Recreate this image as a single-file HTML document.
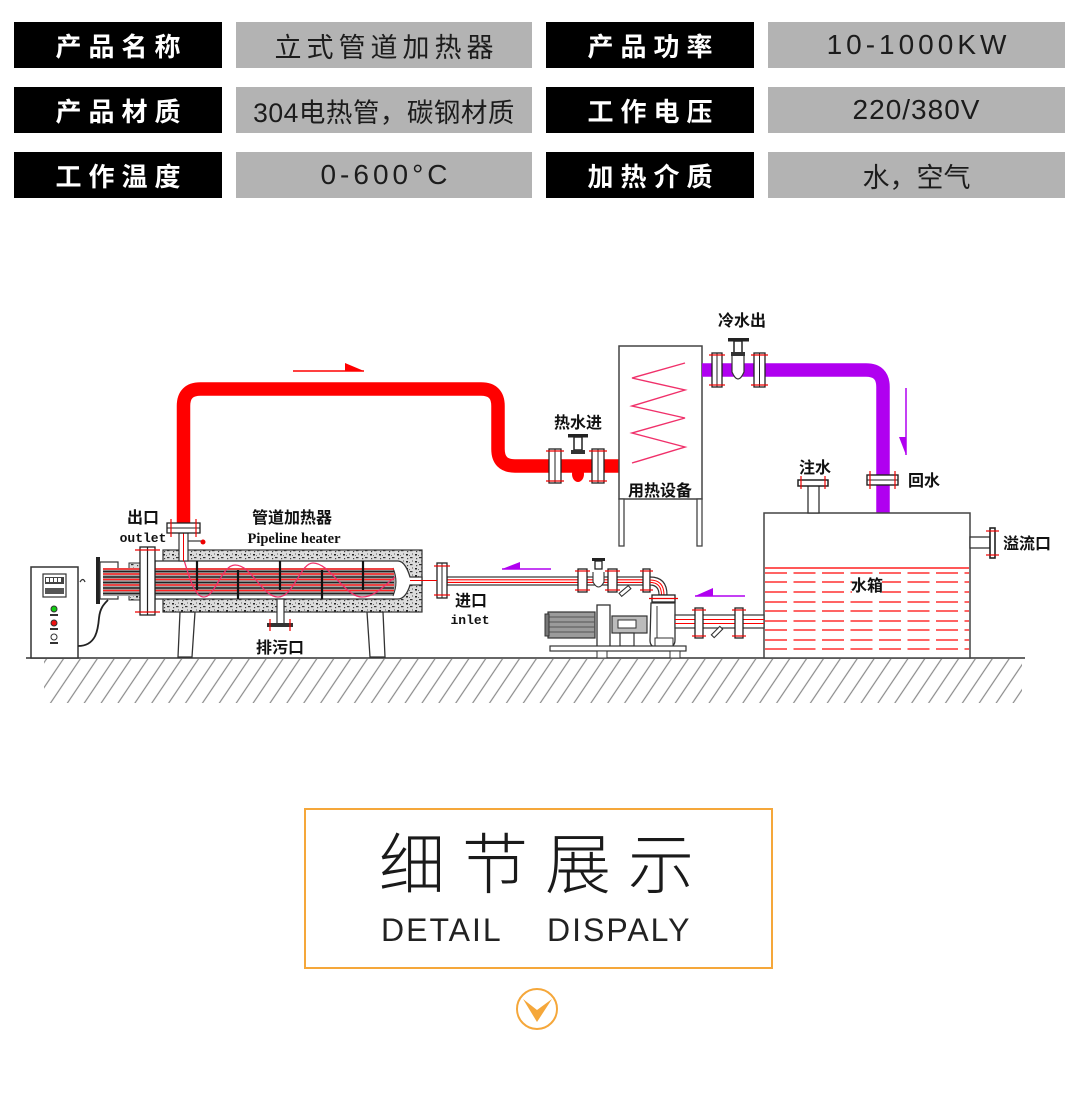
<!DOCTYPE html>
<html><head><meta charset="utf-8"><style>
html,body{margin:0;padding:0;background:#fff;}
body{width:1080px;height:1096px;position:relative;overflow:hidden;font-family:"Liberation Sans","Noto Sans CJK SC",sans-serif;}
.b{position:absolute;display:flex;align-items:center;justify-content:center;height:46px;white-space:nowrap;box-sizing:border-box;}
.k{background:#000;color:#fff;font-weight:bold;font-size:26px;letter-spacing:7px;padding-left:7px;}
.g{background:#b3b3b3;color:#1c1c1c;font-size:27px;}
svg{position:absolute;left:0;top:0;}
.t{font-family:"Liberation Sans","Noto Sans CJK SC",sans-serif;font-weight:bold;font-size:16px;fill:#111;}
</style></head><body>

<div class="b k" style="left:14px;top:22px;width:208px;">产品名称</div>
<div class="b g" style="left:236px;top:22px;width:296px;letter-spacing:5px;padding-left:5px;">立式管道加热器</div>
<div class="b k" style="left:546px;top:22px;width:208px;">产品功率</div>
<div class="b g" style="left:768px;top:22px;width:297px;font-size:28px;letter-spacing:4px;padding-left:4px;">10-1000KW</div>

<div class="b k" style="left:14px;top:87px;width:208px;">产品材质</div>
<div class="b g" style="left:236px;top:87px;width:296px;font-size:26.5px;letter-spacing:0.5px;">304电热管，碳钢材质</div>
<div class="b k" style="left:546px;top:87px;width:208px;">工作电压</div>
<div class="b g" style="left:768px;top:87px;width:297px;font-size:28px;letter-spacing:1px;">220/380V</div>

<div class="b k" style="left:14px;top:152px;width:208px;">工作温度</div>
<div class="b g" style="left:236px;top:152px;width:296px;font-size:28px;letter-spacing:4px;padding-left:4px;">0-600°C</div>
<div class="b k" style="left:546px;top:152px;width:208px;">加热介质</div>
<div class="b g" style="left:768px;top:152px;width:297px;">水，空气</div>

<svg width="1080" height="1096" viewBox="0 0 1080 1096">
<defs>
<pattern id="hatch" width="14" height="10" patternUnits="userSpaceOnUse" patternTransform="rotate(34)"><line x1="1" y1="-1" x2="1" y2="11" stroke="#8a8a8a" stroke-width="1.2"/></pattern>
<pattern id="speck" width="9" height="7" patternUnits="userSpaceOnUse"><rect width="9" height="7" fill="#dcdcdc"/><rect x="1" y="1" width="2" height="1.5" fill="#222"/><rect x="5" y="4" width="2.5" height="1.2" fill="#333"/><rect x="7" y="0.5" width="1" height="1" fill="#555"/><rect x="2" y="5" width="1.2" height="1.2" fill="#444"/><rect x="4" y="2" width="1" height="1" fill="#777"/></pattern>
</defs>

<!-- ground -->
<rect x="44" y="659" width="978" height="44" fill="url(#hatch)"/>
<line x1="26" y1="658" x2="1025" y2="658" stroke="#333" stroke-width="1.6"/>

<!-- control box -->
<rect x="31" y="567" width="47" height="91" fill="#fff" stroke="#333" stroke-width="1.5"/>
<rect x="43" y="574" width="23" height="23" fill="#fff" stroke="#333" stroke-width="1.2"/>
<rect x="45" y="577" width="19" height="7" fill="#444"/>
<rect x="46" y="578" width="3" height="4" fill="#fff"/><rect x="50" y="578" width="3" height="4" fill="#fff"/><rect x="54" y="578" width="3" height="4" fill="#fff"/><rect x="58" y="578" width="3" height="4" fill="#fff"/>
<rect x="45" y="588" width="19" height="6" fill="#555"/>
<circle cx="54" cy="609" r="3" fill="#1c1" stroke="#333"/><rect x="50" y="614" width="8" height="2" fill="#333"/>
<circle cx="54" cy="623" r="3" fill="#e11" stroke="#333"/><rect x="50" y="628" width="8" height="2" fill="#333"/>
<circle cx="54" cy="637" r="3" fill="#fff" stroke="#333"/><rect x="50" y="642" width="8" height="2" fill="#333"/>
<path d="M80,582 q3,-5 5,0" fill="none" stroke="#333" stroke-width="1.3"/>
<path d="M78,646 C96,646 98,630 99,618 C100,608 104,604 108,600" fill="none" stroke="#222" stroke-width="1.8"/>

<!-- heater legs -->
<path d="M180,612 L195,612 L192,657 L178,657 Z" fill="#fff" stroke="#333" stroke-width="1.3"/>
<path d="M367,612 L383,612 L385,657 L370,657 Z" fill="#fff" stroke="#333" stroke-width="1.3"/>

<!-- insulation shell -->
<rect x="163" y="550" width="259" height="62" fill="url(#speck)" stroke="#333" stroke-width="1.2"/>
<path d="M155,561 H398 C404,561 408,570 410,577 H422 V585 H410 C408,592 404,599 398,599 H155 Z" fill="#fff" stroke="#333" stroke-width="1.3"/>

<!-- heater head -->
<rect x="96" y="557" width="4" height="47" fill="#222"/>
<rect x="100" y="562" width="18" height="37" fill="#fff" stroke="#333" stroke-width="1.2"/>
<rect x="129" y="563" width="11" height="37" fill="url(#speck)" stroke="#333" stroke-width="1"/>

<!-- tube bundle -->
<rect x="103" y="568" width="290" height="28" fill="#a8a8a8"/>
<path d="M393,568 Q399,582 393,596" fill="#a8a8a8" stroke="#333" stroke-width="1"/>
<g stroke-width="1.4">
<line x1="103" y1="569" x2="394" y2="569" stroke="#f22"/>
<line x1="103" y1="571.5" x2="394" y2="571.5" stroke="#222"/>
<line x1="103" y1="574" x2="394" y2="574" stroke="#f22"/>
<line x1="103" y1="577" x2="394" y2="577" stroke="#222"/>
<line x1="103" y1="579.5" x2="394" y2="579.5" stroke="#f22"/>
<line x1="103" y1="582.5" x2="394" y2="582.5" stroke="#222"/>
<line x1="103" y1="585" x2="394" y2="585" stroke="#f22"/>
<line x1="103" y1="588" x2="394" y2="588" stroke="#222"/>
<line x1="103" y1="590.5" x2="394" y2="590.5" stroke="#f22"/>
<line x1="103" y1="593.5" x2="394" y2="593.5" stroke="#222"/>
</g>

<!-- baffles -->
<g stroke="#111" stroke-width="2.2">
<line x1="197" y1="561" x2="197" y2="590"/>
<line x1="238" y1="570" x2="238" y2="599"/>
<line x1="280" y1="561" x2="280" y2="590"/>
<line x1="322" y1="570" x2="322" y2="599"/>
<line x1="363" y1="561" x2="363" y2="590"/>
</g>
<!-- flow wave -->
<path d="M184,560 C190,580 195,597 204,597 C215,597 222,565 235,565 C252,565 262,597 278,597 C294,597 300,563 313,563 C330,563 345,597 362,597 C375,597 385,585 395,577" fill="none" stroke="#f0306a" stroke-width="1.3"/>

<!-- big flange -->
<rect x="140" y="547" width="15" height="68" fill="#fff" stroke="#222" stroke-width="1.3"/>
<line x1="147.5" y1="547" x2="147.5" y2="615" stroke="#222" stroke-width="1.2"/>
<line x1="135" y1="550" x2="160" y2="550" stroke="#e00" stroke-width="1.3"/>
<line x1="135" y1="612" x2="160" y2="612" stroke="#e00" stroke-width="1.3"/>

<!-- drain -->
<rect x="277" y="599" width="7" height="26" fill="#fff" stroke="#333" stroke-width="1.2"/>
<rect x="267" y="623" width="26" height="4" fill="#333"/>
<line x1="270" y1="619" x2="270" y2="631" stroke="#e00" stroke-width="1.2"/>
<line x1="290" y1="619" x2="290" y2="631" stroke="#e00" stroke-width="1.2"/>

<!-- outlet nozzle -->
<rect x="179" y="533" width="9" height="28" fill="#fff" stroke="#333" stroke-width="1.2"/>
<line x1="183.5" y1="533" x2="183.5" y2="561" stroke="#e00" stroke-width="1"/>
<line x1="188" y1="541" x2="201" y2="541" stroke="#333" stroke-width="1.2"/>
<circle cx="203" cy="542" r="2.5" fill="#e00"/>

<!-- red hot pipe -->
<path d="M183.5,523 V406 Q183.5,389 200.5,389 H481 Q498,389 498,406 V449 Q498,466 515,466 H619" fill="none" stroke="#ff0000" stroke-width="13.5"/>
<rect x="167" y="523" width="33" height="10" fill="#fff" stroke="#222" stroke-width="1.3"/>
<line x1="167" y1="528" x2="200" y2="528" stroke="#222" stroke-width="1"/>
<line x1="171" y1="519" x2="171" y2="537" stroke="#e00" stroke-width="1.2"/>
<line x1="196" y1="519" x2="196" y2="537" stroke="#e00" stroke-width="1.2"/>

<!-- red arrow -->
<line x1="293" y1="371" x2="364" y2="371" stroke="#ff0000" stroke-width="1.5"/>
<polygon points="345,363 364,371 345,371" fill="#ff0000"/>

<!-- hot water valve -->
<g>
<rect x="549" y="449" width="12" height="34" fill="#fff" stroke="#222" stroke-width="1.3"/>
<line x1="555" y1="449" x2="555" y2="483" stroke="#222"/>
<line x1="546" y1="451" x2="564" y2="451" stroke="#e00" stroke-width="1.2"/>
<line x1="546" y1="481" x2="564" y2="481" stroke="#e00" stroke-width="1.2"/>
<rect x="592" y="449" width="12" height="34" fill="#fff" stroke="#222" stroke-width="1.3"/>
<line x1="598" y1="449" x2="598" y2="483" stroke="#222"/>
<line x1="589" y1="451" x2="607" y2="451" stroke="#e00" stroke-width="1.2"/>
<line x1="589" y1="481" x2="607" y2="481" stroke="#e00" stroke-width="1.2"/>
<rect x="568" y="434" width="20" height="3.5" fill="#222"/>
<rect x="574" y="437" width="8" height="13" fill="#fff" stroke="#222" stroke-width="1.5"/>
<rect x="571" y="450" width="14" height="4" fill="#333"/>
<ellipse cx="578" cy="474" rx="6" ry="8" fill="#ff0000"/>
</g>

<!-- heat equipment -->
<rect x="619" y="346" width="83" height="153" fill="#fff" stroke="#444" stroke-width="1.5"/>
<rect x="619" y="499" width="5" height="47" fill="#fff" stroke="#444" stroke-width="1.3"/>
<rect x="697" y="499" width="5" height="47" fill="#fff" stroke="#444" stroke-width="1.3"/>
<polyline points="685,363 632,378 685,390 632,406 685,418 632,433 685,447 632,463" fill="none" stroke="#f0306a" stroke-width="1.4"/>

<!-- purple pipe -->
<path d="M702,370 H866 Q883,370 883,387 V513" fill="none" stroke="#b000f0" stroke-width="13.5"/>
<g>
<rect x="712" y="353" width="10" height="34" fill="#fff" stroke="#222" stroke-width="1.3"/>
<line x1="717" y1="353" x2="717" y2="387" stroke="#222"/>
<line x1="709" y1="355" x2="725" y2="355" stroke="#e00" stroke-width="1.2"/>
<line x1="709" y1="385" x2="725" y2="385" stroke="#e00" stroke-width="1.2"/>
<rect x="754" y="353" width="11" height="34" fill="#fff" stroke="#222" stroke-width="1.3"/>
<line x1="759.5" y1="353" x2="759.5" y2="387" stroke="#222"/>
<line x1="751" y1="355" x2="768" y2="355" stroke="#e00" stroke-width="1.2"/>
<line x1="751" y1="385" x2="768" y2="385" stroke="#e00" stroke-width="1.2"/>
<rect x="728" y="338" width="21" height="3.5" fill="#222"/>
<rect x="734" y="341" width="8" height="12" fill="#fff" stroke="#222" stroke-width="1.5"/>
<rect x="731" y="352" width="14" height="4" fill="#333"/>
<path d="M732,356 V372 Q738,386 744,372 V356" fill="#fff" stroke="#333" stroke-width="1.2"/>
</g>

<!-- purple arrow -->
<line x1="906" y1="388" x2="906" y2="455" stroke="#b000f0" stroke-width="1.5"/>
<polygon points="899,437 906,455 906,437" fill="#b000f0"/>

<!-- return flange -->
<rect x="867" y="475" width="31" height="10" fill="#fff" stroke="#222" stroke-width="1.4"/>
<line x1="867" y1="480" x2="898" y2="480" stroke="#222"/>
<line x1="870" y1="471" x2="870" y2="489" stroke="#e00" stroke-width="1.2"/>
<line x1="895" y1="471" x2="895" y2="489" stroke="#e00" stroke-width="1.2"/>

<!-- tank -->
<rect x="764" y="513" width="206" height="145" fill="#fff" stroke="#444" stroke-width="1.5"/>
<line x1="765" y1="568" x2="969" y2="568" stroke="#ff2020" stroke-width="1.4"/>
<g stroke="#ff3030" stroke-width="1.4" stroke-dasharray="22,6.5">
<line x1="765" y1="573" x2="969" y2="573"/>
<line x1="765" y1="582" x2="969" y2="582"/>
<line x1="765" y1="592" x2="969" y2="592"/>
<line x1="765" y1="602" x2="969" y2="602"/>
<line x1="765" y1="611" x2="969" y2="611"/>
<line x1="765" y1="621" x2="969" y2="621"/>
<line x1="765" y1="630" x2="969" y2="630"/>
<line x1="765" y1="640" x2="969" y2="640"/>
<line x1="765" y1="649" x2="969" y2="649"/>
</g>
<rect x="852" y="577" width="30" height="17" fill="#fff"/>

<!-- fill pipe -->
<rect x="808" y="485" width="11" height="28" fill="#fff" stroke="#333" stroke-width="1.3"/>
<rect x="798" y="480" width="30" height="6" fill="#fff" stroke="#222" stroke-width="1.5"/>
<line x1="801" y1="476" x2="801" y2="489" stroke="#e00" stroke-width="1.2"/>
<line x1="825" y1="476" x2="825" y2="489" stroke="#e00" stroke-width="1.2"/>

<!-- overflow -->
<rect x="970" y="537" width="20" height="11" fill="#fff" stroke="#333" stroke-width="1.3"/>
<rect x="990" y="528" width="5" height="30" fill="#fff" stroke="#222" stroke-width="1.6"/>
<line x1="986" y1="531" x2="999" y2="531" stroke="#e00" stroke-width="1.2"/>
<line x1="986" y1="555" x2="999" y2="555" stroke="#e00" stroke-width="1.2"/>

<!-- inlet nozzle / pipe -->
<rect x="447" y="577" width="203" height="8" fill="#fff" stroke="#333" stroke-width="1.2"/>
<line x1="447" y1="579.8" x2="650" y2="579.8" stroke="#ff0000" stroke-width="1.1"/>
<line x1="447" y1="582.4" x2="650" y2="582.4" stroke="#ff0000" stroke-width="1.1"/>
<rect x="437" y="563" width="10" height="35" fill="#fff" stroke="#222" stroke-width="1.3"/>
<line x1="442" y1="563" x2="442" y2="598" stroke="#222"/>
<line x1="434" y1="566" x2="450" y2="566" stroke="#e00" stroke-width="1.2"/>
<line x1="434" y1="595" x2="450" y2="595" stroke="#e00" stroke-width="1.2"/>
<line x1="410" y1="580.5" x2="437" y2="580.5" stroke="#e00" stroke-width="1"/>

<!-- inlet valve -->
<rect x="578" y="569" width="9" height="23" fill="#fff" stroke="#222" stroke-width="1.3"/>
<line x1="575" y1="571" x2="590" y2="571" stroke="#e00" stroke-width="1.2"/>
<line x1="575" y1="590" x2="590" y2="590" stroke="#e00" stroke-width="1.2"/>
<rect x="608" y="569" width="9" height="23" fill="#fff" stroke="#222" stroke-width="1.3"/>
<line x1="605" y1="571" x2="620" y2="571" stroke="#e00" stroke-width="1.2"/>
<line x1="605" y1="590" x2="620" y2="590" stroke="#e00" stroke-width="1.2"/>
<rect x="592" y="558" width="13" height="3" fill="#222"/>
<rect x="595" y="561" width="7" height="8" fill="#fff" stroke="#222" stroke-width="1.3"/>
<path d="M593,572 V582 Q598.5,592 604,582 V572" fill="#fff" stroke="#333" stroke-width="1.1"/>
<rect x="623" y="585" width="4" height="12" fill="#fff" stroke="#333" stroke-width="1.1" transform="rotate(50 625 591)"/>
<rect x="643" y="569" width="7" height="23" fill="#fff" stroke="#222" stroke-width="1.3"/>
<line x1="640" y1="571" x2="653" y2="571" stroke="#e00" stroke-width="1.2"/>
<line x1="640" y1="590" x2="653" y2="590" stroke="#e00" stroke-width="1.2"/>
<!-- elbow -->
<path d="M650,577 Q667,577 667,595 L659,595 Q659,585 650,585 Z" fill="#fff" stroke="#333" stroke-width="1.2"/>
<path d="M650,580 Q664,580 664,595 M650,582.4 Q661.5,582.4 661.5,595" fill="none" stroke="#ff0000" stroke-width="1"/>

<!-- pump assembly -->
<rect x="652" y="595" width="23" height="7" fill="#fff" stroke="#222" stroke-width="1.3"/>
<line x1="649" y1="598.5" x2="678" y2="598.5" stroke="#e00" stroke-width="1.2"/>
<path d="M651,603 H675 V640 Q675,647 668,647 H656 Q650,647 650,640 Z" fill="#fff" stroke="#333" stroke-width="1.3"/>
<line x1="657" y1="606" x2="657" y2="640" stroke="#333"/>
<rect x="655" y="638" width="18" height="8" fill="#fff" stroke="#333"/>
<rect x="548" y="612" width="47" height="26" fill="#9b9b9b" stroke="#333" stroke-width="1.2"/>
<g stroke="#555" stroke-width="1"><line x1="548" y1="617" x2="595" y2="617"/><line x1="548" y1="622" x2="595" y2="622"/><line x1="548" y1="627" x2="595" y2="627"/><line x1="548" y1="632" x2="595" y2="632"/></g>
<rect x="545" y="614" width="4" height="22" fill="#777" stroke="#333"/>
<rect x="597" y="605" width="13" height="42" fill="#fff" stroke="#333" stroke-width="1.3"/>
<rect x="612" y="616" width="35" height="17" fill="#bbb" stroke="#333" stroke-width="1.2"/>
<rect x="618" y="620" width="18" height="8" fill="#fff" stroke="#333"/>
<rect x="620" y="633" width="14" height="13" fill="#fff" stroke="#333" stroke-width="1.2"/>
<rect x="550" y="646" width="136" height="5" fill="#fff" stroke="#333" stroke-width="1.2"/>
<rect x="597" y="651" width="10" height="7" fill="#fff" stroke="#333"/>
<rect x="670" y="651" width="10" height="7" fill="#fff" stroke="#333"/>
<!-- pump outlet pipe -->
<rect x="675" y="615" width="89" height="13" fill="#fff" stroke="#333" stroke-width="1.2"/>
<line x1="675" y1="619.5" x2="764" y2="619.5" stroke="#ff0000" stroke-width="1.1"/>
<line x1="675" y1="623.5" x2="764" y2="623.5" stroke="#ff0000" stroke-width="1.1"/>
<rect x="695" y="608" width="8" height="30" fill="#fff" stroke="#222" stroke-width="1.3"/>
<line x1="692" y1="610" x2="706" y2="610" stroke="#e00" stroke-width="1.2"/>
<line x1="692" y1="636" x2="706" y2="636" stroke="#e00" stroke-width="1.2"/>
<rect x="735" y="608" width="8" height="30" fill="#fff" stroke="#222" stroke-width="1.3"/>
<line x1="732" y1="610" x2="746" y2="610" stroke="#e00" stroke-width="1.2"/>
<line x1="732" y1="636" x2="746" y2="636" stroke="#e00" stroke-width="1.2"/>
<rect x="715" y="626" width="4" height="12" fill="#fff" stroke="#333" stroke-width="1.1" transform="rotate(45 717 632)"/>

<!-- purple arrows -->
<line x1="502" y1="569" x2="551" y2="569" stroke="#b000f0" stroke-width="1.5"/>
<polygon points="502,569 520,562 520,569" fill="#b000f0"/>
<line x1="695" y1="596" x2="745" y2="596" stroke="#b000f0" stroke-width="1.5"/>
<polygon points="695,596 713,588 713,596" fill="#b000f0"/>

<!-- labels -->
<text class="t" x="143" y="523" text-anchor="middle">出口</text>
<text x="143" y="542" text-anchor="middle" font-family="Liberation Mono" font-weight="bold" font-size="13" fill="#111">outlet</text>
<text class="t" x="292" y="523" text-anchor="middle">管道加热器</text>
<text x="294" y="543" text-anchor="middle" font-family="Liberation Serif" font-weight="bold" font-size="14.5" fill="#111">Pipeline heater</text>
<text class="t" x="280" y="653" text-anchor="middle">排污口</text>
<text class="t" x="471" y="606" text-anchor="middle">进口</text>
<text x="470" y="624" text-anchor="middle" font-family="Liberation Mono" font-weight="bold" font-size="13" fill="#111">inlet</text>
<text class="t" x="578" y="428" text-anchor="middle">热水进</text>
<text class="t" x="660" y="496" text-anchor="middle">用热设备</text>
<text class="t" x="742" y="326" text-anchor="middle">冷水出</text>
<text class="t" x="815" y="473" text-anchor="middle">注水</text>
<text class="t" x="924" y="486" text-anchor="middle">回水</text>
<text class="t" x="867" y="591" text-anchor="middle">水箱</text>
<text class="t" x="1027" y="549" text-anchor="middle">溢流口</text>

<!-- detail box -->
<rect x="305" y="809" width="467" height="159" fill="none" stroke="#f5a73a" stroke-width="2"/>
<circle cx="537" cy="1009" r="20" fill="#fff" stroke="#f5a73a" stroke-width="2"/>
<polygon points="523,999 537,1010 552,999 537,1022" fill="#f5a73a"/>
</svg>

<div style="position:absolute;left:379px;top:822px;font-family:'Liberation Sans','Noto Sans CJK SC',sans-serif;font-size:66px;font-weight:300;letter-spacing:17px;color:#1a1a1a;line-height:86px;white-space:nowrap;">细节展示</div>
<div style="position:absolute;left:381px;top:910px;font-family:'Liberation Sans',sans-serif;font-size:32px;letter-spacing:2px;color:#222;line-height:40px;white-space:nowrap;">DETAIL</div>
<div style="position:absolute;left:547px;top:910px;font-family:'Liberation Sans',sans-serif;font-size:32px;letter-spacing:2px;color:#222;line-height:40px;white-space:nowrap;">DISPALY</div>

</body></html>
